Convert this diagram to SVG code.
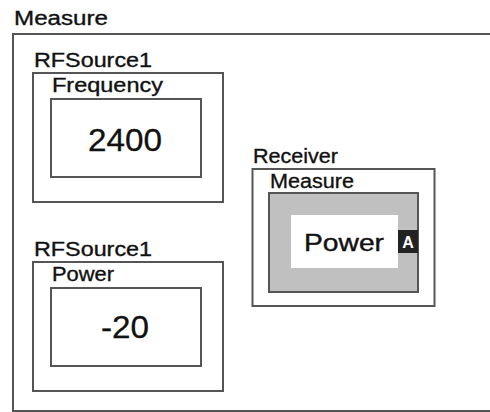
<svg xmlns="http://www.w3.org/2000/svg" width="490" height="412" viewBox="0 0 490 412">
<style>
.frame{fill:none;stroke:#555;stroke-width:2}
.lbl{font-family:"Liberation Sans",Arial,sans-serif;font-size:20px;fill:#111;stroke:#111;stroke-width:0.35}
.val{font-family:"Liberation Sans",Arial,sans-serif;font-size:31px;fill:#111;stroke:#111;stroke-width:0.3;text-anchor:middle}
</style>
<rect width="490" height="412" fill="#fff"/>
<g id="measure">
<text class="lbl" x="14" y="25" textLength="94" lengthAdjust="spacingAndGlyphs">Measure</text>
<rect class="frame" x="13" y="34" width="500" height="377"/>
</g>
<g id="rfsource1-frequency">
<text class="lbl" x="34" y="67" textLength="118" lengthAdjust="spacingAndGlyphs">RFSource1</text>
<rect class="frame" x="33" y="73" width="190" height="129"/>
<text class="lbl" x="52" y="92" textLength="111" lengthAdjust="spacingAndGlyphs">Frequency</text>
<rect class="frame" x="51" y="99" width="150" height="78"/>
<text class="val" x="125" y="151" textLength="74" lengthAdjust="spacingAndGlyphs">2400</text>
</g>
<g id="rfsource1-power">
<text class="lbl" x="34" y="256" textLength="118" lengthAdjust="spacingAndGlyphs">RFSource1</text>
<rect class="frame" x="33" y="262" width="190" height="129"/>
<text class="lbl" x="52" y="281" textLength="62" lengthAdjust="spacingAndGlyphs">Power</text>
<rect class="frame" x="51" y="288" width="150" height="78"/>
<text class="val" x="125" y="338" textLength="48" lengthAdjust="spacingAndGlyphs">-20</text>
</g>
<g id="receiver">
<text class="lbl" x="253" y="163" textLength="85" lengthAdjust="spacingAndGlyphs">Receiver</text>
<rect class="frame" x="252.5" y="169" width="182" height="137"/>
<text class="lbl" x="270" y="188" textLength="84" lengthAdjust="spacingAndGlyphs">Measure</text>
<rect x="269" y="193" width="149" height="99" fill="#c0c0c0" stroke="#555" stroke-width="2"/>
<rect x="291" y="215" width="107" height="53" fill="#fff"/>
<text x="304" y="251" font-family="Liberation Sans,Arial,sans-serif" font-size="24" fill="#111" stroke="#111" stroke-width="0.4" textLength="80" lengthAdjust="spacingAndGlyphs">Power</text>
<rect x="398" y="230" width="20" height="23" fill="#222"/>
<text x="408" y="248" font-family="Liberation Sans,Arial,sans-serif" font-size="16" font-weight="bold" fill="#fff" text-anchor="middle">A</text>
</g>
<g id="connectors"/>
</svg>
